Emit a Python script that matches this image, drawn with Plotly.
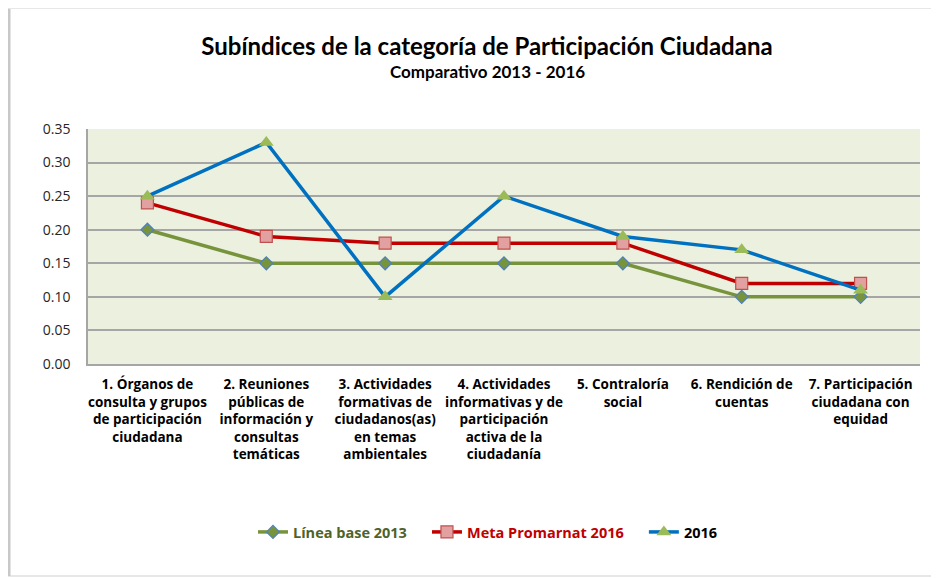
import plotly.graph_objects as go

categories = [
    "1. Órganos de<br>consulta y grupos<br>de participación<br>ciudadana",
    "2. Reuniones<br>públicas de<br>información y<br>consultas<br>temáticas",
    "3. Actividades<br>formativas de<br>ciudadanos(as)<br>en temas<br>ambientales",
    "4. Actividades<br>informativas y de<br>participación<br>activa de la<br>ciudadanía",
    "5. Contraloría<br>social",
    "6. Rendición de<br>cuentas",
    "7. Participación<br>ciudadana con<br>equidad",
]
linea_base_2013 = [0.20, 0.15, 0.15, 0.15, 0.15, 0.10, 0.10]
meta_promarnat_2016 = [0.24, 0.19, 0.18, 0.18, 0.18, 0.12, 0.12]
valores_2016 = [0.25, 0.33, 0.10, 0.25, 0.19, 0.17, 0.11]
y_ticks = [0.00, 0.05, 0.10, 0.15, 0.20, 0.25, 0.30, 0.35]

FONT = "Lato, 'Open Sans', sans-serif"
FONT2 = "'Open Sans', Lato, sans-serif"
PAD = "&nbsp;" * 4

fig = go.Figure()
fig.add_trace(go.Scatter(
    x=categories, y=linea_base_2013, mode="lines+markers",
    name="<span style='color:#4F6228'>Línea base 2013</span>" + PAD,
    line=dict(color="#77933C", width=3.5),
    marker=dict(symbol="diamond", size=10, color="#77933C",
                line=dict(color="#4F81BD", width=1.2)),
))
fig.add_trace(go.Scatter(
    x=categories, y=meta_promarnat_2016, mode="lines+markers",
    name="<span style='color:#C00000'>Meta Promarnat 2016</span>" + PAD,
    line=dict(color="#C00000", width=3.5),
    marker=dict(symbol="square", size=12, color="#E3A0A0",
                line=dict(color="#C0504D", width=1.2)),
))
fig.add_trace(go.Scatter(
    x=categories, y=valores_2016, mode="lines+markers",
    name="<span style='color:#000000'>2016</span>",
    line=dict(color="#0070C0", width=3.5),
    marker=dict(symbol="triangle-up", size=13, color="#9BBB59",
                line=dict(color="#9BBB59", width=0)),
))

# the page body has an 8px margin, so the figure starts at (8, 8)
O = 8
W, H = 939 - O, 578 - O
L, R, T, B = 88 - O, 939 - 920, 129 - O, 578 - 364
pw, ph = W - L - R, H - T - B

def px(x):
    return (x - O - L) / pw

def py(y):
    return (H - B - (y - O)) / ph

fig.update_layout(
    width=W, height=H,
    margin=dict(l=L, r=R, t=T, b=B, autoexpand=False),
    paper_bgcolor="white",
    plot_bgcolor="#EBF1DE",
    font=dict(family=FONT, size=13, color="#000000"),
    title=dict(
        text="<b>Subíndices de la categoría de Participación Ciudadana</b>",
        x=(487 - O) / W, xanchor="center", y=1 - (47 - O) / H, yanchor="middle",
        font=dict(family=FONT, size=24, color="#000000"),
    ),
    annotations=[
        dict(text="<b>Comparativo 2013 - 2016</b>", xref="paper", yref="paper",
             x=px(487), y=py(72), xanchor="center", yanchor="middle",
             showarrow=False, font=dict(family=FONT, size=17, color="#000000")),
    ],
    showlegend=True,
    legend=dict(
        orientation="h", x=px(253), xanchor="left", y=py(532), yanchor="middle",
        font=dict(family=FONT2, size=14.5, color="#000000", weight="bold"),
        tracegroupgap=0,
    ),
    xaxis=dict(
        range=[-0.5, 6.5], showgrid=False, zeroline=False,
        showline=True, linecolor="#A6A6A6", linewidth=1.5,
        ticks="", tickangle=0, ticklabelstandoff=7,
        tickfont=dict(family=FONT2, size=13.5, color="#000000", weight="bold"),
    ),
    yaxis=dict(
        range=[0, 0.35], tickvals=y_ticks, tickformat=".2f",
        showgrid=True, gridcolor="#A6A6A6", gridwidth=1.5,
        zeroline=False, showline=True, linecolor="#A6A6A6", linewidth=1.5,
        ticks="", ticklabelstandoff=13,
        tickfont=dict(family=FONT2, size=14, color="#262626"),
    ),
    shapes=[
        dict(type="rect", xref="paper", yref="paper",
             x0=px(8), x1=px(939), y0=py(576), y1=py(8),
             line=dict(color="#E0E0E0", width=1.5), layer="below"),
        dict(type="line", xref="paper", yref="paper",
             x0=px(9), x1=px(9), y0=py(576), y1=py(9),
             line=dict(color="#C8C8C8", width=3), layer="below"),
    ],
)

fig.write_html("out.html")
